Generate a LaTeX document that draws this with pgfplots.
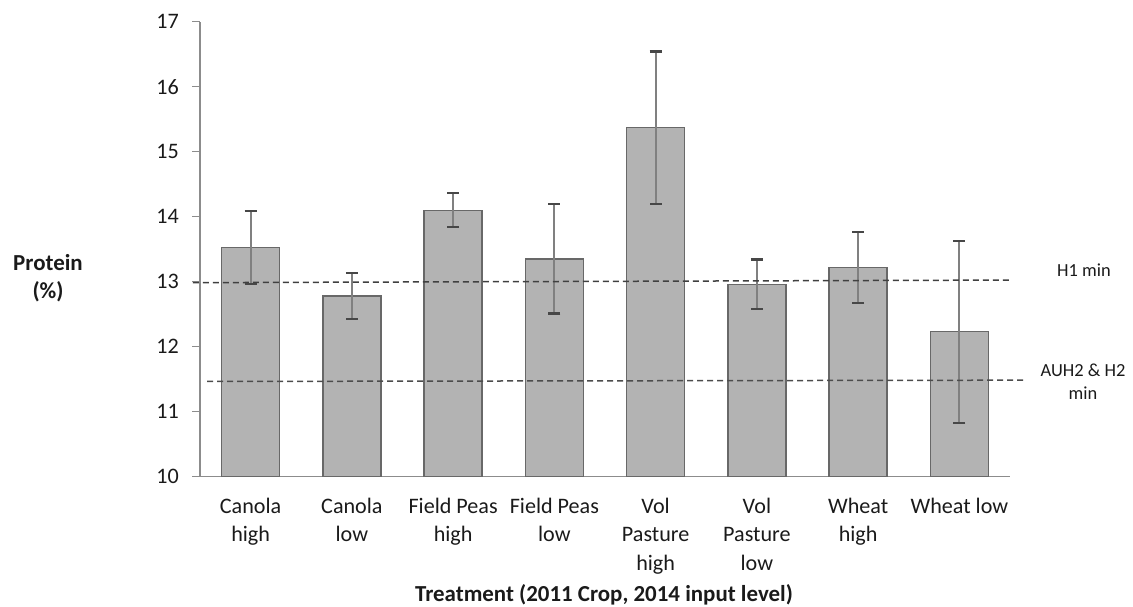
\documentclass[border=0pt]{standalone}
\usepackage{pgfplots}
\pgfplotsset{compat=1.18}
\usepackage{fontspec}
\setmainfont{Carlito}
\definecolor{barfill}{HTML}{B3B3B3}
\definecolor{barline}{HTML}{686868}
\definecolor{axisgray}{HTML}{8C8C8C}
\definecolor{txt}{HTML}{1A1A1A}
\newcommand{\tl}[1]{\begin{tabular}[t]{@{}c@{}}#1\end{tabular}}
\begin{document}
\begin{tikzpicture}[x=1bp,y=1bp]
\useasboundingbox (0,0) rectangle (1133,607);
\begin{axis}[
  at={(200bp,130.3bp)}, anchor=south west,
  scale only axis, width=810bp, height=455bp,
  xmin=-0.5, xmax=7.5, ymin=10, ymax=17,
  axis x line*=bottom, axis y line*=left,
  axis line style={draw=axisgray, line width=1.3bp},
  clip=false,
  xtick={0,...,7},
  xticklabels={\tl{Canola\\high},\tl{Canola\\low},\tl{Field Peas\\high},\tl{Field Peas\\low},
    \tl{Vol\\Pasture\\high},\tl{Vol\\Pasture\\low},\tl{Wheat\\high},\tl{Wheat low}},
  major x tick style={draw=none},
  ytick={10,...,17},
  tick align=outside, major tick length=8bp,
  major y tick style={draw=axisgray, line width=1.3bp},
  /pgf/number format/assume math mode=true,
  ticklabel style={font=\fontsize{22.2}{28.3}\selectfont, text=txt},
  yticklabel style={anchor=east, inner sep=0pt, xshift=-13bp},
  xticklabel style={anchor=base, inner sep=0pt, yshift=-29bp},
]
\addplot[ybar, bar width=58bp, fill=barfill, draw=barline, line width=1.3bp,
  error bars/.cd, y dir=both, y explicit,
  error bar style={line width=2.2bp, draw=black!50},
  error mark options={rotate=90, mark size=6bp, line width=2.2bp, draw=black!72}]
  coordinates {
  (0,13.53) +- (0,0.56)
  (1,12.78) +- (0,0.35)
  (2,14.10) +- (0,0.26)
  (3,13.35) +- (0,0.84)
  (4,15.37) +- (0,1.17)
  (5,12.96) +- (0,0.38)
  (6,13.22) +- (0,0.55)
  (7,12.23) +- (0,1.40)
  };
\addplot[sharp plot, no markers, draw=black!75, line width=1.5bp, dash pattern=on 6bp off 4bp]
  coordinates {(-0.57,12.985) (7.49,13.025)};
\addplot[sharp plot, no markers, draw=black!70, line width=1.5bp, dash pattern=on 6bp off 4bp]
  coordinates {(-0.43,11.465) (7.63,11.485)};
\end{axis}
\begin{scope}[every node/.style={inner sep=0pt, text=txt}]
\node[anchor=base, font=\fontsize{23}{28}\selectfont\bfseries] at (48,336) {Protein};
\node[anchor=base, font=\fontsize{23}{28}\selectfont\bfseries] at (48,308) {(\%)};
\node[anchor=base, font=\fontsize{23}{28}\selectfont\bfseries] at (604,5.3) {Treatment (2011 Crop, 2014 input level)};
\node[anchor=base, font=\fontsize{18.5}{22.7}\selectfont] at (1084,330.3) {H1 min};
\node[anchor=base, font=\fontsize{18.5}{22.7}\selectfont] at (1083,230.3) {AUH2 \& H2};
\node[anchor=base, font=\fontsize{18.5}{22.7}\selectfont] at (1083,207.6) {min};
\end{scope}
\end{tikzpicture}
\end{document}
